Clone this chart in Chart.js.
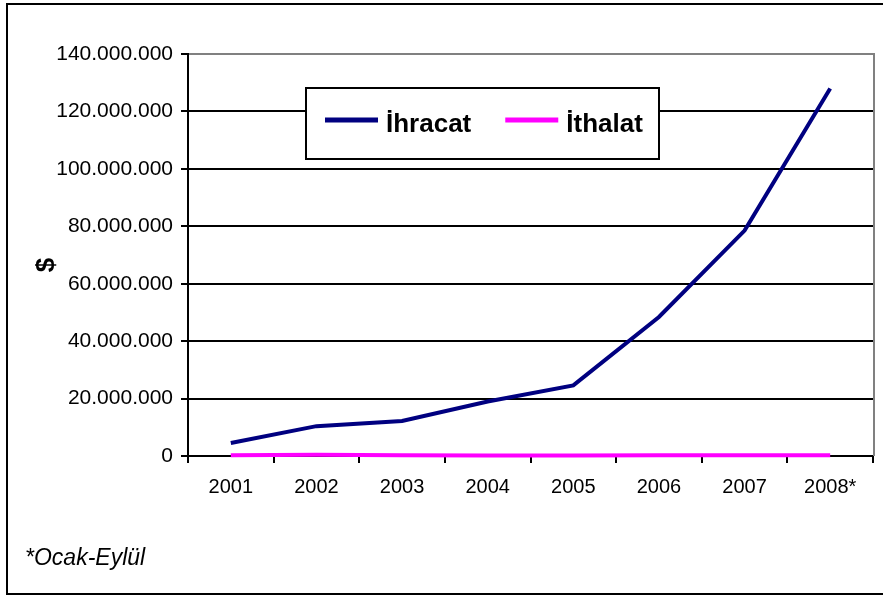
<!DOCTYPE html>
<html>
<head>
<meta charset="utf-8">
<title>İhracat / İthalat</title>
<script src="https://cdn.jsdelivr.net/npm/chart.js@4.4.1/dist/chart.umd.min.js"></script>
<style>
  html, body { margin: 0; padding: 0; background: #fff; overflow: hidden; }
  #wrap { position: relative; width: 883px; height: 595px; }
  #wrap canvas { position: absolute; left: 0; top: 0; }
  #frame {
    position: absolute; left: 6px; top: 3px; width: 900px; height: 592px;
    border: 2px solid #000; box-sizing: border-box; pointer-events: none;
  }
</style>
</head>
<body>
<div id="wrap">
  <canvas id="chart" width="883" height="595"></canvas>
  <div id="frame"></div>
</div>
<script>
const years = ["2001", "2002", "2003", "2004", "2005", "2006", "2007", "2008*"];
const ihracat = [4500000, 10400000, 12200000, 19000000, 24600000, 48400000, 78500000, 128000000];
const ithalat = [300000, 450000, 250000, 200000, 200000, 250000, 300000, 250000];
const yMax = 140000000;
const yStep = 20000000;
const yTitle = "$";
const footnote = "*Ocak-Eylül";

const FONT = "'Liberation Sans', Arial, sans-serif";

function formatTR(v) {
  return String(v).replace(/\B(?=(\d{3})+(?!\d))/g, ".");
}

// gray right edge of the plot area
const plotBorder = {
  id: "plotBorder",
  afterDatasetsDraw(chart) {
    const { ctx, chartArea } = chart;
    ctx.save();
    ctx.strokeStyle = "#808080";
    ctx.lineWidth = 2;
    ctx.beginPath();
    ctx.moveTo(chartArea.right + 1, chartArea.top - 1);
    ctx.lineTo(chartArea.right + 1, chartArea.bottom);
    ctx.stroke();
    ctx.restore();
  },
};

// legend box inside the plot, axis title and footnote
const extras = {
  id: "extras",
  afterDraw(chart) {
    const ctx = chart.ctx;
    ctx.save();

    const bx = 306, by = 88, bw = 353, bh = 71;
    ctx.fillStyle = "#fff";
    ctx.fillRect(bx, by, bw, bh);
    ctx.strokeStyle = "#000";
    ctx.lineWidth = 2;
    ctx.strokeRect(bx, by, bw, bh);

    ctx.font = "bold 26px " + FONT;
    ctx.textBaseline = "alphabetic";
    let cx = 325;
    const cy = 120;
    chart.data.datasets.forEach((ds) => {
      ctx.strokeStyle = ds.borderColor;
      ctx.lineWidth = 5;
      ctx.beginPath();
      ctx.moveTo(cx, cy);
      ctx.lineTo(cx + 53, cy);
      ctx.stroke();
      ctx.fillStyle = "#000";
      ctx.fillText(ds.label, cx + 61, 132);
      cx += 61 + ctx.measureText(ds.label).width + 34;
    });

    ctx.translate(47, 265);
    ctx.rotate(-Math.PI / 2);
    ctx.textAlign = "center";
    ctx.textBaseline = "middle";
    ctx.font = "bold 26px " + FONT;
    ctx.fillText(yTitle, 0, 0);
    ctx.setTransform(1, 0, 0, 1, 0, 0);

    ctx.textAlign = "left";
    ctx.textBaseline = "alphabetic";
    ctx.font = "italic 23px " + FONT;
    ctx.fillText(footnote, 25, 565);

    ctx.restore();
  },
};

new Chart(document.getElementById("chart"), {
  type: "line",
  data: {
    labels: years,
    datasets: [
      {
        label: "İhracat",
        data: ihracat,
        borderColor: "#000080",
        borderWidth: 4,
        pointRadius: 0,
        tension: 0,
        fill: false,
        clip: false,
      },
      {
        label: "İthalat",
        data: ithalat,
        borderColor: "#FF00FF",
        borderWidth: 4,
        pointRadius: 0,
        tension: 0,
        fill: false,
        clip: false,
      },
    ],
  },
  plugins: [plotBorder, extras],
  options: {
    responsive: false,
    animation: false,
    devicePixelRatio: 1,
    layout: { padding: { left: 0, top: 54, right: 10, bottom: 0 } },
    plugins: {
      legend: { display: false },
      tooltip: { enabled: false },
    },
    scales: {
      x: {
        offset: true,
        grid: {
          offset: true,
          drawOnChartArea: false,
          tickLength: 7,
          color: "#000",
          lineWidth: 2,
        },
        border: { color: "#000", width: 2 },
        ticks: {
          color: "#000",
          font: { family: FONT, size: 20 },
          padding: 12,
          maxRotation: 0,
          autoSkip: false,
        },
        afterFit: (s) => {
          s.height = 139;
        },
      },
      y: {
        min: 0,
        max: yMax,
        ticks: {
          stepSize: yStep,
          color: "#000",
          font: { family: FONT, size: 21 },
          padding: 8,
          callback: (v) => formatTR(v),
        },
        grid: {
          color: (c) => (c.tick && c.tick.value === yMax ? "#808080" : "#000"),
          tickColor: "#000",
          lineWidth: 2,
          tickLength: 7,
        },
        border: { color: "#000", width: 2 },
        afterFit: (s) => {
          s.width = 188;
        },
      },
    },
  },
});
</script>
</body>
</html>
